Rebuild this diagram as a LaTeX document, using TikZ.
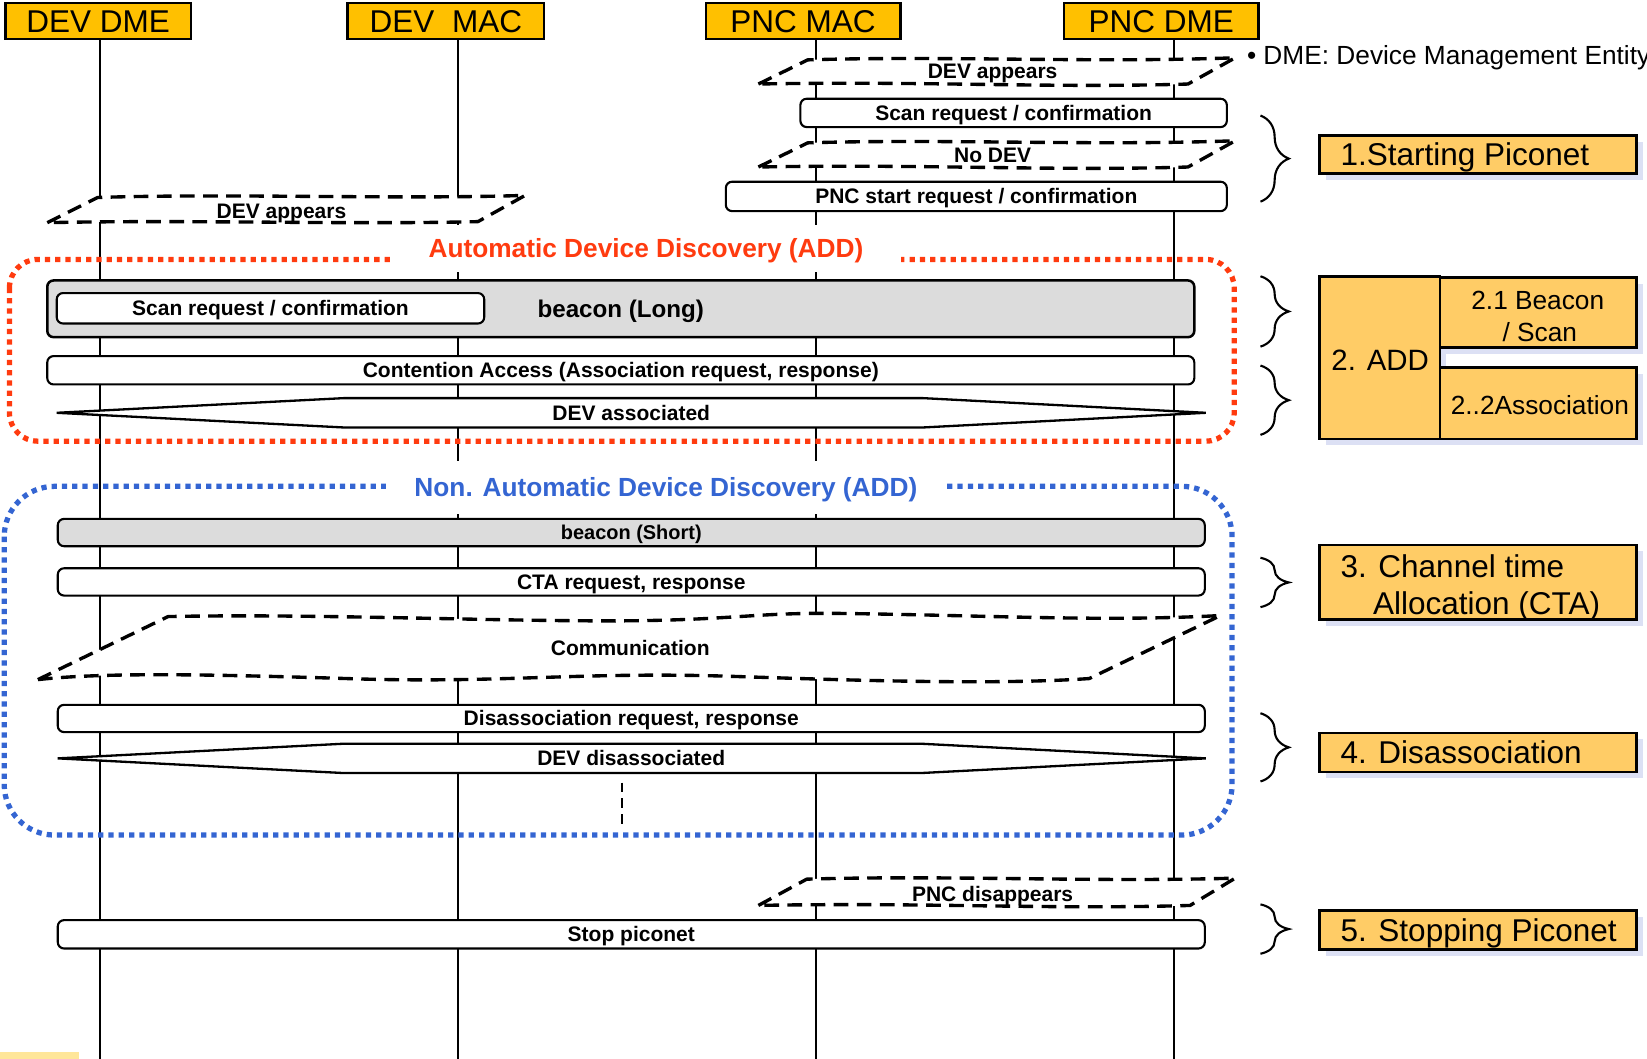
\documentclass[tikz,border=0pt]{standalone}
\usepackage{fontspec}
\setmainfont{Liberation Sans}
\usetikzlibrary{decorations.pathreplacing,shadows}
\definecolor{hdrorange}{HTML}{FFC000}
\definecolor{rorange}{HTML}{FFCC66}
\definecolor{shadowc}{HTML}{DCE0F4}
\definecolor{boxgray}{HTML}{DCDCDC}
\definecolor{addred}{HTML}{FF3B0F}
\definecolor{addblue}{HTML}{3465D2}
\definecolor{paleyellow}{HTML}{FFE699}
\begin{document}
\begin{tikzpicture}[x=1pt,y=-1pt,
  lifeline/.style={line width=2pt},
  hdr/.style={draw, line width=2.5pt, fill=hdrorange, inner sep=0pt, minimum height=34pt,
    font=\fontsize{30}{34}\selectfont, text height=21.5pt, text depth=0pt},
  msg/.style={draw, line width=2pt, rounded corners=6pt, fill=white, inner sep=0pt,
    font=\bfseries\fontsize{20}{24}\selectfont, text height=14.3pt, text depth=0pt},
  graymsg/.style={msg, fill=boxgray},
  lbl/.style={inner sep=0pt, font=\bfseries\fontsize{20}{24}\selectfont, text height=14.3pt, text depth=0pt},
  dashshape/.style={draw, fill=white, line width=3.2pt, dash pattern=on 14pt off 8pt, line join=round},
  hexshape/.style={draw, fill=white, line width=2.2pt, line join=miter},
  reddot/.style={draw=addred, line width=5pt, dash pattern=on 5pt off 4.8pt},
  bluedot/.style={draw=addblue, line width=5pt, dash pattern=on 5pt off 4.8pt},
  ttl/.style={fill=white, inner sep=0pt, font=\bfseries\fontsize{25}{30}\selectfont, text height=18pt, text depth=0pt},
  rbox/.style={draw, line width=2.5pt, fill=rorange, inner sep=0pt,
    drop shadow={shadow xshift=6pt, shadow yshift=-6pt, fill=shadowc, opacity=1}},
  rtext/.style={inner sep=0pt, font=\fontsize{30}{35}\selectfont},
  rsubtext/.style={inner sep=0pt, font=\fontsize{25}{30}\selectfont},
  bracestyle/.style={draw, line width=2pt, decorate, decoration={brace, amplitude=27pt, aspect=0.5}}
]
\useasboundingbox (0,0) rectangle (1568,1008);

% headers
\node[hdr, minimum width=177pt] (hdr1) at (93.5,20) {DEV DME};
\node[hdr, minimum width=187pt] (hdr2) at (424.5,20) {DEV\ \ MAC};
\node[hdr, minimum width=185pt] (hdr3) at (764.5,20) {PNC MAC};
\node[hdr, minimum width=185pt] (hdr4) at (1105.5,20) {PNC DME};

% lifelines
\coordinate (e1) at (95,1008);
\coordinate (e2) at (436,1008);
\coordinate (e3) at (777,1008);
\coordinate (e4) at (1118,1008);
\draw[lifeline] (e1 |- hdr1.south) -- (e1);
\draw[lifeline] (e2 |- hdr2.south) -- (e2);
\draw[lifeline] (e3 |- hdr3.south) -- (e3);
\draw[lifeline] (e4 |- hdr4.south) -- (e4);

% note
\node[anchor=west, inner sep=0pt, font=\fontsize{25}{30}\selectfont] (note) at (1187,55) {• DME: Device Management Entity};

% dotted frames
\draw[reddot, rounded corners=27pt] (9,247) rectangle (1175,420);
\draw[bluedot, rounded corners=48pt] (4,463) rectangle (1173,795);
\node[ttl, text=addred, minimum width=486pt, minimum height=45pt] (addtitle) at (615,236.5) {Automatic Device Discovery (ADD)};
\node[ttl, text=addblue, minimum width=533pt, minimum height=51pt] (naddtitle) at (634,464) {Non. Automatic Device Discovery (ADD)};

% 1. starting piconet
\draw[dashshape] (722,80) -- (769,57) .. controls (900,53) and (1040,60) .. (1176,55) -- (1131,80) .. controls (1000,84) and (880,77) .. (722,80) -- cycle;
\node[lbl] (devapp1) at (945,68) {DEV appears};
\node[msg, minimum width=406pt, minimum height=27pt] (scanpnc) at (965,107.5) {Scan request / confirmation};
\draw[dashshape] (722,159) -- (769,136) .. controls (900,132) and (1040,139) .. (1176,134) -- (1131,159) .. controls (1000,163) and (880,156) .. (722,159) -- cycle;
\node[lbl] (nodev) at (945,148) {No DEV};
\node[msg, minimum width=477pt, minimum height=28pt] (pncstart) at (929.5,187) {PNC start request / confirmation};

\draw[dashshape] (45,212) -- (93,188) .. controls (220,184) and (380,190) .. (500,186) -- (455,211) .. controls (330,214) and (180,209) .. (45,212) -- cycle;
\node[lbl] (devapp2) at (268,201) {DEV appears};

% 2. ADD
\node[graymsg, line width=2.4pt, minimum width=1092pt, minimum height=54pt, font=\bfseries\fontsize{23}{27}\selectfont, text height=16.5pt] (beaconL) at (591,294) {beacon (Long)};
\node[msg, minimum width=407pt, minimum height=29pt] (scandev) at (257.5,293.5) {Scan request / confirmation};
\node[msg, minimum width=1092pt, minimum height=27pt] (contention) at (591,352.5) {Contention Access (Association request, response)};
\draw[hexshape] (54,393) -- (328,379) -- (878,379) -- (1148,393) -- (878,407) -- (328,407) -- cycle;
\node[lbl] (assoc) at (601,393) {DEV associated};

% 3. CTA
\node[graymsg, minimum width=1092pt, minimum height=26pt, font=\bfseries\fontsize{19}{23}\selectfont, text height=13.6pt] (beaconS) at (601,507) {beacon (Short)};
\node[msg, minimum width=1092pt, minimum height=26pt] (cta) at (601,554) {CTA request, response};
\draw[dashshape] (36,647) -- (160,587)
  .. controls (300,584) and (480,592) .. (600,591)
  .. controls (700,590) and (720,583) .. (800,584)
  .. controls (950,586) and (1050,592) .. (1162,586)
  -- (1037,646)
  .. controls (950,652) and (820,648) .. (700,644)
  .. controls (550,639) and (480,651) .. (330,646)
  .. controls (200,642) and (100,640) .. (36,647) -- cycle;
\node[lbl] (comm) at (600,617) {Communication};

% 4. disassociation
\node[msg, minimum width=1092pt, minimum height=26pt] (disreq) at (601,684) {Disassociation request, response};
\draw[hexshape] (55,722) -- (328,708) -- (876,708) -- (1148,722) -- (876,736) -- (328,736) -- cycle;
\node[lbl] (disassoc) at (601,722) {DEV disassociated};
\draw[line width=2pt, dash pattern=on 9pt off 6pt] (592,745) -- (592,789);

% 5. stopping
\draw[dashshape] (722,862) -- (768,837) .. controls (900,833) and (1040,840) .. (1176,836) -- (1133,862) .. controls (1000,866) and (880,859) .. (722,862) -- cycle;
\node[lbl] (pncdis) at (945,851) {PNC disappears};
\node[msg, minimum width=1092pt, minimum height=27pt] (stop) at (601,889.5) {Stop piconet};

% braces
\draw[bracestyle] (1200,110) -- (1200,192);
\draw[bracestyle] (1200,263) -- (1200,330);
\draw[bracestyle] (1200,348) -- (1200,414);
\draw[bracestyle] (1200,531) -- (1200,578);
\draw[bracestyle] (1200,679) -- (1200,744);
\draw[bracestyle] (1200,861) -- (1200,908);

% right labels
\node[rbox, minimum width=302pt, minimum height=36.5pt] (r1) at (1407,147) {};
\node[rtext, anchor=base west] (r1t) at (1276,157.7) {1.Starting Piconet};

\node[rbox, minimum width=115pt, minimum height=155pt] (r2) at (1313.5,340.5) {};
\node[rtext, font=\fontsize{28}{34}\selectfont, anchor=base] (r2t) at (1314,353) {2. ADD};
\node[rbox, minimum width=187pt, minimum height=67pt] (r21) at (1464.5,297.5) {};
\node[rsubtext, anchor=base] (r21a) at (1464,294.5) {2.1 Beacon};
\node[rsubtext, anchor=base] (r21b) at (1466,325) {/ Scan};
\node[rbox, minimum width=187pt, minimum height=68pt] (r22) at (1464.5,384) {};
\node[rsubtext, anchor=base] (r22t) at (1466,394.5) {2..2Association};

\node[rbox, minimum width=302pt, minimum height=71pt] (r3) at (1407,554.5) {};
\node[rtext, anchor=base west] (r3a) at (1276,549.7) {3. Channel time};
\node[rtext, anchor=base west] (r3b) at (1307,584.7) {Allocation (CTA)};

\node[rbox, minimum width=302pt, minimum height=37pt] (r4) at (1407,716.5) {};
\node[rtext, anchor=base west] (r4t) at (1276,727.2) {4. Disassociation};

\node[rbox, minimum width=302pt, minimum height=37pt] (r5) at (1407,885.5) {};
\node[rtext, anchor=base west] (r5t) at (1276,896.2) {5. Stopping Piconet};

% bottom-left fragment
\fill[paleyellow] (0,1002) rectangle (75,1008);
\end{tikzpicture}
\end{document}
